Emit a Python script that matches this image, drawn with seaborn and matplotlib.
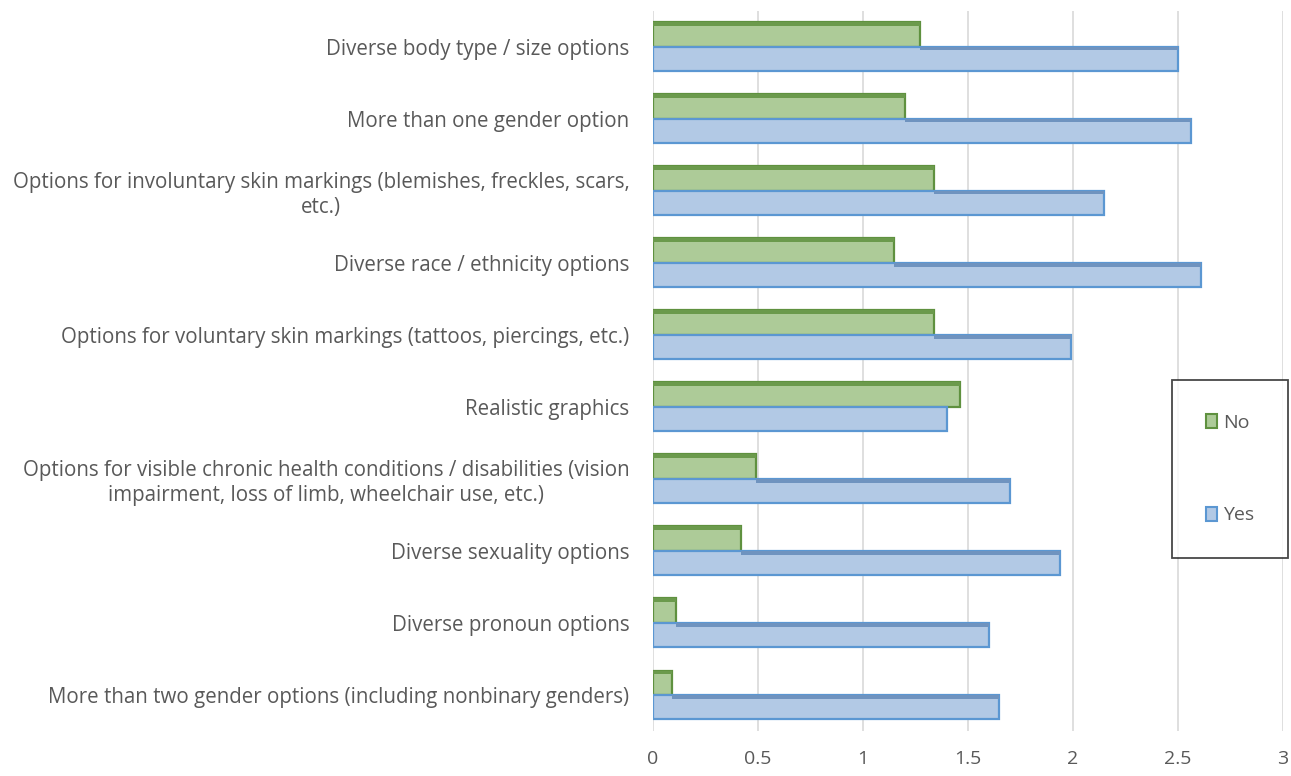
import matplotlib
matplotlib.use("Agg")
import matplotlib.pyplot as plt
from matplotlib.patches import Rectangle
import seaborn as sns
import pandas as pd

categories = [
    "Diverse body type / size options",
    "More than one gender option",
    "Options for involuntary skin markings (blemishes, freckles, scars,\netc.)",
    "Diverse race / ethnicity options",
    "Options for voluntary skin markings (tattoos, piercings, etc.)",
    "Realistic graphics",
    "Options for visible chronic health conditions / disabilities (vision\nimpairment, loss of limb, wheelchair use, etc.)",
    "Diverse sexuality options",
    "Diverse pronoun options",
    "More than two gender options (including nonbinary genders)",
]
no_values = [1.27, 1.20, 1.34, 1.15, 1.34, 1.46, 0.49, 0.42, 0.11, 0.09]
yes_values = [2.50, 2.56, 2.15, 2.61, 1.99, 1.40, 1.70, 1.94, 1.60, 1.65]
series = ["No", "Yes"]
x_ticks = [0, 0.5, 1, 1.5, 2, 2.5, 3]

fill_colors = {"No": "#acd48f", "Yes": "#a9c8ee"}
edge_colors = {"No": "#5f913f", "Yes": "#5b97d2"}
top_colors = {"No": "#6b9a4c", "Yes": "#6f93bf"}
text_gray = "#595959"

df = pd.DataFrame({
    "category": categories * 2,
    "value": no_values + yes_values,
    "series": ["No"] * len(categories) + ["Yes"] * len(categories),
})

sns.set_theme(style="white")
plt.rcParams["font.family"] = ["Open Sans", "DejaVu Sans"]

fig = plt.figure(figsize=(12.91, 7.76), dpi=100)
ax = fig.add_axes([0.5058, 0.058, 0.488, 0.928])

sns.barplot(data=df, y="category", x="value", hue="series", hue_order=series,
            order=categories, palette=fill_colors, orient="h", width=0.68,
            errorbar=None, ax=ax, zorder=3)

# edges per series, plus a darker strip suggesting the bar's top face
for cont, name in zip(ax.containers, series):
    for p in cont:
        p.set_edgecolor(edge_colors[name])
        p.set_linewidth(1.6)
no_bars = list(ax.containers[0])
yes_bars = list(ax.containers[1])
for pn, py in zip(no_bars, yes_bars):
    h = 0.05
    ax.add_patch(Rectangle((pn.get_x(), pn.get_y()), pn.get_width(), h,
                           facecolor=top_colors["No"], edgecolor="none", zorder=4))
    start = pn.get_width()
    if py.get_width() > start:
        ax.add_patch(Rectangle((start, py.get_y()), py.get_width() - start, h,
                               facecolor=top_colors["Yes"], edgecolor="none", zorder=4))

ax.set_xlim(0, 3)
ax.set_xticks(x_ticks)
ax.set_xticklabels([f"{t:g}" for t in x_ticks])
ax.set_xlabel("")
ax.set_ylabel("")
ax.xaxis.grid(True, color="#d9d9d9", linewidth=1.2, zorder=0)
ax.yaxis.grid(False)
for s in ax.spines.values():
    s.set_visible(False)
ax.tick_params(axis="x", length=0, pad=14, labelsize=14, labelcolor=text_gray)
ax.tick_params(axis="y", length=0, pad=17, labelsize=14.8, labelcolor=text_gray)
for lbl in ax.get_yticklabels():
    lbl.set_multialignment("center")

handles, labels = ax.get_legend_handles_labels()
for hnd, name in zip(handles, series):
    hnd.set_edgecolor(edge_colors[name])
    hnd.set_linewidth(1.5)
leg = ax.legend(handles, labels, loc="center",
                bbox_to_anchor=(1230 / 1291, 1 - 469 / 776),
                bbox_transform=fig.transFigure, frameon=True, fancybox=False,
                borderpad=1.75, labelspacing=3.85, handlelength=0.55,
                handleheight=0.75, handletextpad=0.3, fontsize=14,
                borderaxespad=0)
leg.get_frame().set_edgecolor("#1a1a1a")
leg.get_frame().set_linewidth(1.3)
leg.get_frame().set_facecolor("white")
for t in leg.get_texts():
    t.set_color(text_gray)

fig.savefig("out.png", dpi=100, facecolor="white")
